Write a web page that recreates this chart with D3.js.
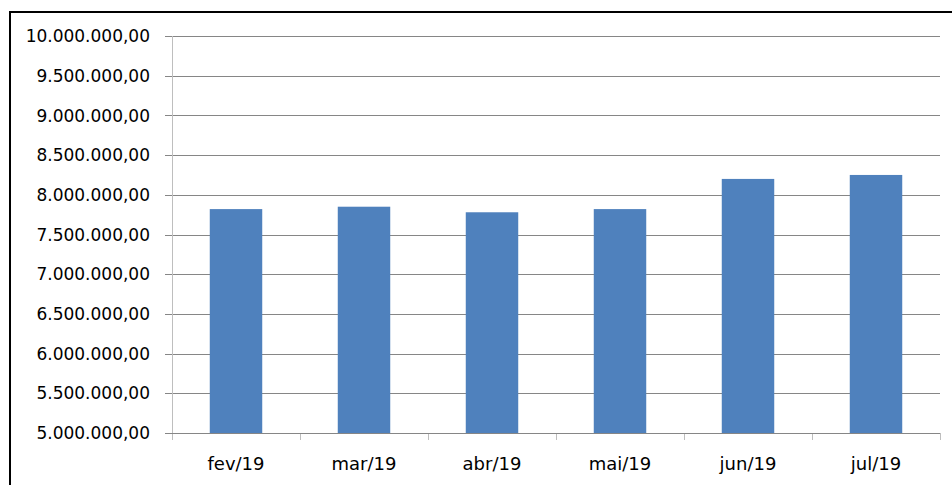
<!DOCTYPE html>
<html><head><meta charset="utf-8">
<script src="https://cdn.jsdelivr.net/npm/d3@7"></script>
<style>html,body{margin:0;padding:0;background:#fff;}svg{display:block;}</style>
</head><body>
<script>
const categories = ["fev/19","mar/19","abr/19","mai/19","jun/19","jul/19"];
const values = [7820000, 7850000, 7780000, 7820000, 8200000, 8250000];
const yTicks = [5000000,5500000,6000000,6500000,7000000,7500000,8000000,8500000,9000000,9500000,10000000];

(function(){
const W = 952, H = 485;
const svg = d3.select("body").append("svg").attr("width", W).attr("height", H);

svg.append("rect").attr("x", 10).attr("y", 12).attr("width", 960).attr("height", 500)
  .attr("fill", "none").attr("stroke", "#000").attr("stroke-width", 2);

const pLeft = 172, pRight = 940, pTop = 36, pBottom = 433;
const x = d3.scaleBand().domain(categories).range([pLeft, pRight]).paddingInner(0.59).paddingOuter(0.295);
const y = d3.scaleLinear().domain([5000000, 10000000]).range([pBottom, pTop]);

const fmt = v => d3.format(",.2f")(v).replace(/,/g, "#").replace(/\./g, ",").replace(/#/g, ".");

svg.append("g").selectAll("line").data(yTicks).join("line")
  .attr("x1", pLeft - 7).attr("x2", pRight)
  .attr("y1", d => Math.round(y(d)) + 0.5).attr("y2", d => Math.round(y(d)) + 0.5)
  .attr("stroke", "#868686").attr("stroke-width", 1);

svg.append("g").selectAll("rect").data(values).join("rect")
  .attr("x", (d, i) => x(categories[i])).attr("width", x.bandwidth())
  .attr("y", d => y(d)).attr("height", d => pBottom - y(d))
  .attr("fill", "#4F81BD");

svg.append("line").attr("x1", pLeft + 0.5).attr("x2", pLeft + 0.5).attr("y1", pTop).attr("y2", pBottom)
  .attr("stroke", "#BEBEBE").attr("stroke-width", 1);

const step = x.step();
const tickXs = d3.range(categories.length + 1).map(i => pLeft + i * step);
svg.append("g").selectAll("line").data(tickXs).join("line")
  .attr("x1", d => Math.round(d) + 0.5).attr("x2", d => Math.round(d) + 0.5)
  .attr("y1", pBottom).attr("y2", pBottom + 7)
  .attr("stroke", "#BEBEBE");
svg.append("line").attr("x1", pLeft).attr("x2", pRight).attr("y1", pBottom + 0.5).attr("y2", pBottom + 0.5)
  .attr("stroke", "#868686");

svg.append("g").selectAll("text").data(yTicks).join("text")
  .attr("x", 150).attr("y", d => y(d)).attr("dy", "0.36em")
  .attr("text-anchor", "end")
  .attr("font-family", "DejaVu Sans").attr("font-size", 17)
  .attr("fill", "#000")
  .text(fmt);

svg.append("g").selectAll("text").data(categories).join("text")
  .attr("x", d => x(d) + x.bandwidth() / 2).attr("y", 470)
  .attr("text-anchor", "middle")
  .attr("font-family", "DejaVu Sans").attr("font-size", 18)
  .attr("fill", "#000")
  .text(d => d);
})();
</script>
</body></html>
